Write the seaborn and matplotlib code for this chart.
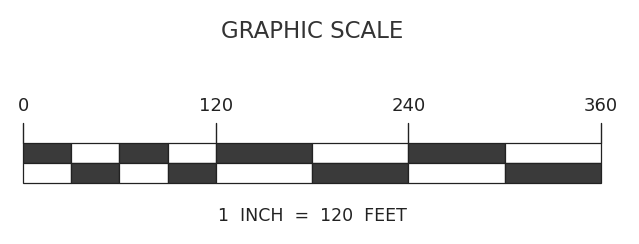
import matplotlib
matplotlib.use("Agg")
import matplotlib.pyplot as plt
import seaborn as sns
import pandas as pd

# ---- data ----
title = "GRAPHIC SCALE"
subtitle = "1 INCH = 120 FEET"
tick_values = [0, 120, 240, 360]
tick_labels = ["0", "120", "240", "360"]
seg_starts = [0, 30, 60, 90, 120, 180, 240, 300]
seg_widths = [30, 30, 30, 30, 60, 60, 60, 60]
top_dark = [True, False, True, False, True, False, True, False]

sns.set_theme(style="white")
plt.rcParams['font.family'] = ['DejaVu Sans']

rows = []
for s, w, d in zip(seg_starts, seg_widths, top_dark):
    rows.append({"row": "top", "start": s, "width": w, "dark": d})
    rows.append({"row": "bottom", "start": s, "width": w, "dark": not d})
df = pd.DataFrame(rows)

W, H = 639, 244
fig = plt.figure(figsize=(W / 100, H / 100), dpi=100)
ax = fig.add_axes([0, 0, 1, 1])
px = 578 / 360.0
ax.set_xlim(-23 / px, 360 + (W - 601) / px)
ax.set_ylim(H, 0)
ax.axis("off")

dark = "#3a3a3a"
row_y = {"top": 153, "bottom": 173}
for _, r in df.iterrows():
    ax.barh(row_y[r["row"]], r["width"], left=r["start"], height=20,
            color=dark if r["dark"] else "white", edgecolor="#222222",
            linewidth=0.9)

for v, lab in zip(tick_values, tick_labels):
    ax.plot([v, v], [123, 143], color="#222222", lw=1.0)
    ax.text(v, 106, lab, ha="center", va="center", fontsize=13,
            color="#222222")

ax.text(180, 31, title, ha="center", va="center", fontsize=16.5,
        color="#333333")
ax.text(180, 216, subtitle.replace(" ", "  "), ha="center", va="center",
        fontsize=12.5, color="#222222")

fig.savefig("out.png", dpi=100, facecolor="white")
